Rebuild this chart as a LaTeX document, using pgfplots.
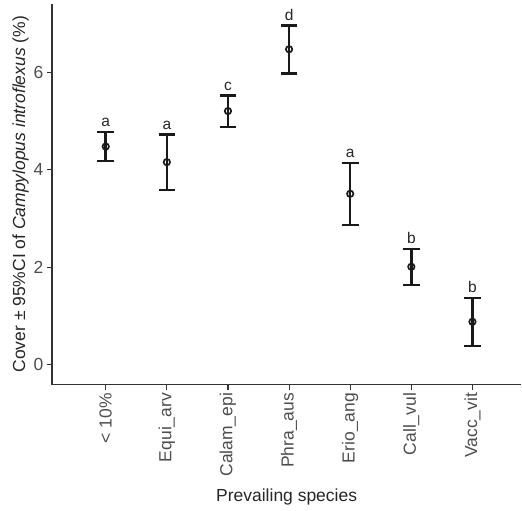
\documentclass[border=0pt]{standalone}
\usepackage{pgfplots}
\pgfplotsset{compat=1.18}
\usepackage{pgfplotstable}
\usepackage{fontspec}
\setmainfont{Liberation Sans}
\definecolor{axgray}{HTML}{333333}
\definecolor{tickgray}{HTML}{4D4D4D}
\pgfplotstableread{
x y ep em
0 4.48 0.30 0.30
1 4.16 0.57 0.57
2 5.21 0.32 0.33
3 6.48 0.49 0.50
4 3.51 0.63 0.64
5 2.01 0.37 0.37
6 0.88 0.49 0.50
}\means
\pgfplotstableread{
x top lab
0 4.78 a
1 4.73 a
2 5.53 c
3 6.97 d
4 4.15 a
5 2.38 b
6 1.37 b
}\letters
\begin{document}
\begin{tikzpicture}
\begin{axis}[
  name=main,
  scale only axis,
  width=470pt, height=381pt,
  xmin=-0.88, xmax=6.8,
  ymin=-0.41, ymax=7.41,
  axis lines*=left,
  axis line style={line width=1.3pt, color=axgray, -},
  xtick={0,1,2,3,4,5,6},
  xticklabels={{< 10\%},Equi\_arv,Calam\_epi,Phra\_aus,Erio\_ang,Call\_vul,Vacc\_vit},
  ytick={0,2,4,6},
  tick style={line width=1.1pt, color=axgray},
  major tick length=5pt,
  tick align=outside,
  xticklabel style={rotate=90, anchor=east, font=\fontsize{17.5}{20}\selectfont, text=tickgray},
  yticklabel style={font=\fontsize{17.5}{20}\selectfont, text=tickgray},
  /pgf/number format/assume math mode=true,
  xlabel={Prevailing species},
  ylabel={Cover ± 95\%CI of \textit{Campylopus introflexus} (\%)},
  label style={font=\fontsize{17.5}{20}\selectfont, text=black!85},
  ylabel style={yshift=-2pt},
  xlabel style={yshift=-5pt},
  clip=false,
]
\addplot[color=black!90, line width=2.5pt, mark=o, mark size=3.2pt,
  mark options={line width=1.7pt},
  only marks,
  error bars/.cd, y dir=both, y explicit,
  error bar style={line width=2.5pt, color=black!90},
  error mark options={rotate=90, line width=2.5pt, mark size=8.3pt, color=black!90}]
  table[x=x, y=y, y error plus=ep, y error minus=em] {\means};
\addplot[only marks, mark=none, draw=none,
  nodes near coords, point meta=explicit symbolic,
  every node near coord/.append style={anchor=south, yshift=1.5pt, font=\fontsize{15.5}{17}\selectfont, text=black!85}]
  table[x=x, y=top, meta=lab] {\letters};
\end{axis}
\path ([xshift=-52pt,yshift=-126pt]main.south west) rectangle ([yshift=4pt]main.north east);
\end{tikzpicture}
\end{document}
